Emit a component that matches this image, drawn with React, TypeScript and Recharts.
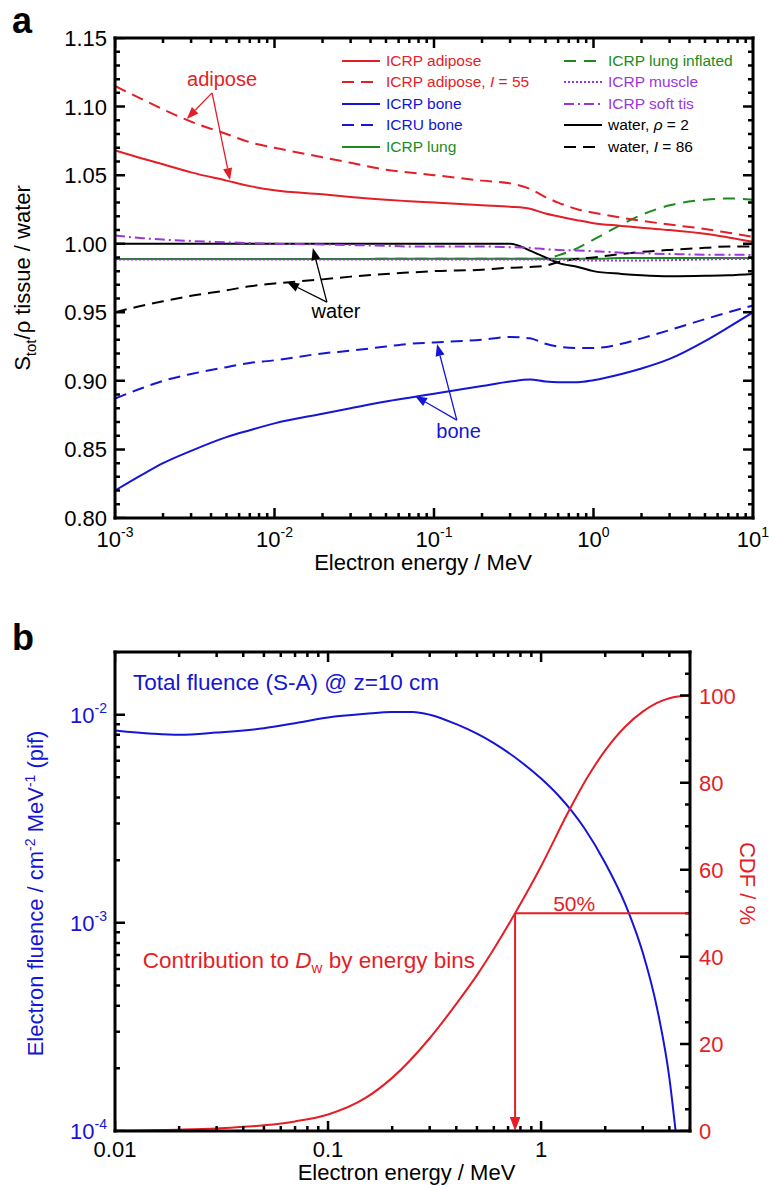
import React from 'react';
import { LineChart, Line, XAxis, YAxis, Legend, Label, ReferenceLine, ReferenceDot } from 'recharts';

const FONT = '"Liberation Sans", Arial, Helvetica, sans-serif';
const RED = '#e41e26';
const BLUE = '#1515d5';
const GREEN = '#1b8c1b';
const PURPLE = '#9b35e0';
const BLACK = '#000000';

// ---- panel a: S_tot/rho, tissue / water ----
const energy = [0.001, 0.0015, 0.002, 0.003, 0.005, 0.007, 0.01, 0.02, 0.03, 0.05, 0.07, 0.1, 0.2, 0.3, 0.4, 0.5, 0.6, 0.8, 1, 1.5, 2, 3, 5, 7, 10];
const icrpAdipose = [1.068, 1.062, 1.058, 1.052, 1.046, 1.042, 1.039, 1.036, 1.034, 1.032, 1.031, 1.03, 1.028, 1.027, 1.0255, 1.022, 1.02, 1.017, 1.015, 1.013, 1.0116, 1.01, 1.0073, 1.0046, 1.0014];
const adiposeI55 = [1.115, 1.105, 1.098, 1.089, 1.08, 1.074, 1.07, 1.063, 1.059, 1.054, 1.052, 1.05, 1.046, 1.044, 1.04, 1.034, 1.03, 1.025, 1.0226, 1.019, 1.0167, 1.014, 1.0107, 1.008, 1.005];
const icrpBone = [0.82, 0.832, 0.84, 0.849, 0.859, 0.864, 0.869, 0.876, 0.88, 0.885, 0.8877, 0.8906, 0.8962, 0.8995, 0.901, 0.8995, 0.899, 0.899, 0.9005, 0.905, 0.909, 0.916, 0.929, 0.939, 0.95];
const icruBone = [0.887, 0.895, 0.9, 0.905, 0.91, 0.913, 0.915, 0.92, 0.922, 0.925, 0.927, 0.928, 0.93, 0.932, 0.931, 0.927, 0.925, 0.924, 0.924, 0.927, 0.931, 0.937, 0.945, 0.95, 0.955];
const icrpLung = [0.9888, 0.9888, 0.9888, 0.9888, 0.9888, 0.9888, 0.9888, 0.9888, 0.9888, 0.989, 0.989, 0.989, 0.989, 0.989, 0.989, 0.989, 0.989, 0.989, 0.989, 0.9895, 0.9895, 0.9895, 0.9895, 0.9895, 0.9895];
const lungInflated = [0.9888, 0.9888, 0.9888, 0.9888, 0.9888, 0.9888, 0.9888, 0.9888, 0.9888, 0.989, 0.989, 0.989, 0.989, 0.989, 0.989, 0.989, 0.9915, 0.997, 1.003, 1.014, 1.021, 1.028, 1.032, 1.033, 1.032];
const icrpMuscle = [0.9885, 0.9885, 0.9885, 0.9885, 0.9885, 0.9885, 0.9885, 0.9885, 0.9885, 0.9885, 0.9885, 0.9885, 0.9885, 0.9885, 0.9885, 0.9885, 0.9885, 0.988, 0.9878, 0.9877, 0.9878, 0.988, 0.9885, 0.9888, 0.9888];
const softTissue = [1.006, 1.004, 1.003, 1.002, 1.001, 1.0005, 1.0, 0.9995, 0.999, 0.9985, 0.998, 0.998, 0.998, 0.9975, 0.997, 0.996, 0.9955, 0.995, 0.9945, 0.9935, 0.993, 0.9925, 0.992, 0.992, 0.9918];
const waterRho2 = [1, 1, 1, 1, 1, 1, 1, 1, 1, 1, 1, 1, 1, 1, 0.995, 0.99, 0.986, 0.983, 0.98, 0.978, 0.977, 0.9763, 0.9766, 0.977, 0.978];
const waterI86 = [0.95, 0.955, 0.958, 0.962, 0.966, 0.969, 0.971, 0.974, 0.976, 0.978, 0.979, 0.98, 0.981, 0.9825, 0.983, 0.984, 0.9865, 0.989, 0.99, 0.9925, 0.994, 0.9955, 0.997, 0.998, 0.998];

// ---- panel b: fluence spectrum and dose CDF ----
const fluenceEnergy = [0.01, 0.015, 0.02, 0.03, 0.05, 0.07, 0.1, 0.15, 0.2, 0.25, 0.3, 0.4, 0.5, 0.6, 0.8, 1.0, 1.2, 1.4, 1.6, 2.0, 2.5, 3.0, 3.5, 4.0, 4.28];
const fluence = [0.0084, 0.0081, 0.008, 0.0082, 0.0086, 0.0091, 0.0097, 0.0101, 0.0103, 0.0103, 0.01, 0.009, 0.0081, 0.0073, 0.00596, 0.00493, 0.00411, 0.00342, 0.00284, 0.00194, 0.00121, 0.00072, 0.00039, 0.00018, 0.0001];
const cdfEnergy = [0.01, 0.02, 0.03, 0.05, 0.07, 0.1, 0.15, 0.2, 0.3, 0.4, 0.5, 0.6, 0.755, 1.0, 1.34, 1.64, 2.0, 2.5, 3.0, 3.5, 4.0, 5.0];
const cdf = [0, 0.3, 0.6, 1.3, 2.2, 3.8, 7.6, 12.2, 21.3, 29.2, 35.8, 41.8, 50, 60.8, 73.2, 81.0, 87.4, 93.0, 96.3, 98.3, 99.4, 100];
const medianEnergy = 0.755;

// tick labels
const bXLabels = ['0.01', '0.1', '1'];
const bRightLabels = [0, 20, 40, 60, 80, 100];

// annotation anchors (data space)
const adiposeArrows = [[[0.00406, 1.11], [0.00282, 1.091]], [[0.00406, 1.11], [0.00526, 1.0464]]];
const waterArrows = [[[0.0213, 0.9574], [0.01197, 0.972]], [[0.0213, 0.9574], [0.0174, 0.9968]]];
const boneArrows = [[[0.139, 0.8714], [0.076, 0.8889]], [[0.139, 0.8714], [0.1045, 0.9268]]];

const logTicks = (lo: number, hi: number) => {
  const out: number[] = [];
  for (let d = Math.floor(Math.log10(lo)); d <= Math.ceil(Math.log10(hi)); d++) {
    for (let m = 1; m < 10; m++) {
      const v = +(m * Math.pow(10, d)).toPrecision(6);
      if (v >= lo * 0.999 && v <= hi * 1.001) out.push(v);
    }
  }
  return out;
};
const isDecade = (v: number) => Math.abs(Math.log10(v) - Math.round(Math.log10(v))) < 1e-6;
const isAMajorY = (v: number) => Math.round(v * 100) % 5 === 0;

const aXTicks = logTicks(0.001, 10);
const aYTicks = Array.from({ length: 36 }, (_, i) => +(0.8 + i * 0.01).toFixed(2));
const bXTicks = logTicks(0.01, 5);
const bYLeftTicks = logTicks(1e-4, 0.02);
const bYRightTicks = Array.from({ length: 22 }, (_, i) => i * 5);

// plot-area sizes (px), used to turn tick lengths into data units
const A_W = 638, A_H = 480;
const B_W = 575, B_H = 479;
const tickLen = (major: boolean) => (major ? 10 : 5);

type Pt = { e: number; t: number | null };
const segs = (pairs: [Pt, Pt][]) => pairs.flatMap(([a, b]) => [a, b, { e: b.e, t: null }]);

// panel a tick marks (inward, mirrored on all four sides)
const aPxPerY = A_H / 0.35;
const aPxPerDec = A_W / 4;
const aTickBottom = segs(aXTicks.map(v => [{ e: v, t: 0.8 }, { e: v, t: 0.8 + tickLen(isDecade(v)) / aPxPerY }] as [Pt, Pt]));
const aTickTop = segs(aXTicks.map(v => [{ e: v, t: 1.15 }, { e: v, t: 1.15 - tickLen(isDecade(v)) / aPxPerY }] as [Pt, Pt]));
const aTickLeft = segs(aYTicks.map(v => [{ e: 0.001, t: v }, { e: 0.001 * Math.pow(10, tickLen(isAMajorY(v)) / aPxPerDec), t: v }] as [Pt, Pt]));
const aTickRight = segs(aYTicks.map(v => [{ e: 10, t: v }, { e: 10 / Math.pow(10, tickLen(isAMajorY(v)) / aPxPerDec), t: v }] as [Pt, Pt]));

// panel b tick marks
const bPxPerDecX = B_W / Math.log10(5 / 0.01);
const bPxPerDecY = B_H / Math.log10(0.02 / 1e-4);
const bPxPerCdf = B_H / 110;
const bTickBottom = segs(bXTicks.map(v => [{ e: v, t: 1e-4 }, { e: v, t: 1e-4 * Math.pow(10, tickLen(isDecade(v)) / bPxPerDecY) }] as [Pt, Pt]));
const bTickTop = segs(bXTicks.map(v => [{ e: v, t: 0.02 }, { e: v, t: 0.02 / Math.pow(10, tickLen(isDecade(v)) / bPxPerDecY) }] as [Pt, Pt]));
const bTickLeft = segs(bYLeftTicks.map(v => [{ e: 0.01, t: v }, { e: 0.01 * Math.pow(10, tickLen(isDecade(v)) / bPxPerDecX), t: v }] as [Pt, Pt]));
const bTickRight = segs(bYRightTicks.map(v => [{ e: 5, t: v }, { e: 5 / Math.pow(10, tickLen(v % 20 === 0) / bPxPerDecX), t: v }] as [Pt, Pt]));

const AXIS = { stroke: BLACK, strokeWidth: 3, strokeLinecap: 'square' as const };

// axis ticks only carry the labels; the inward tick marks are drawn as line series
const labelTick = (isMajor: (v: number) => boolean, label: (v: number, x: number, y: number) => React.ReactNode) =>
  (props: any) => {
    const v = Number(props.payload.value);
    return <g>{isMajor(v) ? label(v, Number(props.x), Number(props.y)) : null}</g>;
  };

const Pow10 = ({ x, y, v, anchor, color = BLACK }: any) => (
  <text x={x} y={y} textAnchor={anchor} fill={color} fontSize={22} fontFamily={FONT}>
    10<tspan dy={-10} fontSize={14}>{String(Math.round(Math.log10(v)))}</tspan>
  </text>
);

const arrowShape = (color: string, width = 1.3, head = 12) => (p: any) => {
  const x1 = Number(p.x1), y1 = Number(p.y1), x2 = Number(p.x2), y2 = Number(p.y2);
  const ang = Math.atan2(y2 - y1, x2 - x1);
  const hx = x2 - head * Math.cos(ang);
  const hy = y2 - head * Math.sin(ang);
  const w = head * 0.38;
  const px = -Math.sin(ang) * w;
  const py = Math.cos(ang) * w;
  return (
    <g>
      <line x1={x1} y1={y1} x2={hx} y2={hy} stroke={color} strokeWidth={width} />
      <polygon points={`${x2},${y2} ${hx + px},${hy + py} ${hx - px},${hy - py}`} fill={color} />
    </g>
  );
};

const textShape = (content: React.ReactNode, color: string, anchor = 'middle', size = 20) => (p: any) => (
  <text x={p.cx} y={p.cy} textAnchor={anchor} fill={color} fontSize={size} fontFamily={FONT}>{content}</text>
);

const aSeries = [
  { key: 'adipose', name: 'ICRP adipose', color: RED, dash: undefined as string | undefined },
  { key: 'adipose55', name: <>ICRP adipose, <i>I</i> = 55</>, color: RED, dash: '12 7' },
  { key: 'bone', name: 'ICRP bone', color: BLUE, dash: undefined },
  { key: 'icruBone', name: 'ICRU bone', color: BLUE, dash: '12 7' },
  { key: 'lung', name: 'ICRP lung', color: GREEN, dash: undefined },
  { key: 'lungInfl', name: 'ICRP lung inflated', color: GREEN, dash: '12 8' },
  { key: 'muscle', name: 'ICRP muscle', color: PURPLE, dash: '2 2' },
  { key: 'softTis', name: 'ICRP soft tis', color: PURPLE, dash: '10 4 2 4' },
  { key: 'waterRho', name: <>water, <i>ρ</i> = 2</>, color: BLACK, dash: undefined },
  { key: 'waterI', name: <>water, <i>I</i> = 86</>, color: BLACK, dash: '12 7' },
];
const drawOrder = ['lung', 'lungInfl', 'waterI', 'waterRho', 'softTis', 'muscle', 'icruBone', 'bone', 'adipose55', 'adipose'];

const aRows = energy.map((e, i) => ({
  e,
  adipose: icrpAdipose[i],
  adipose55: adiposeI55[i],
  bone: icrpBone[i],
  icruBone: icruBone[i],
  lung: icrpLung[i],
  lungInfl: lungInflated[i],
  muscle: icrpMuscle[i],
  softTis: softTissue[i],
  waterRho: waterRho2[i],
  waterI: waterI86[i],
}));
const fluenceRows = fluenceEnergy.map((e, i) => ({ e, v: fluence[i] }));
const cdfRows = cdfEnergy.map((e, i) => ({ e, c: cdf[i] }));

const LegendBox = () => (
  <div style={{ display: 'grid', gridTemplateColumns: '222px 200px', gridAutoFlow: 'column', gridTemplateRows: 'repeat(5, 21.5px)', fontFamily: FONT, fontSize: 15.5 }}>
    {aSeries.map(s => (
      <div key={s.key} style={{ display: 'flex', alignItems: 'center', color: s.color, whiteSpace: 'nowrap' }}>
        <svg width={38} height={8} style={{ marginRight: 6 }}>
          <line x1={0} y1={4} x2={38} y2={4} stroke={s.color} strokeWidth={2} strokeDasharray={s.dash} />
        </svg>
        <span>{s.name}</span>
      </div>
    ))}
  </div>
);

const xTitle = (text: React.ReactNode, dy: number, shift = 0) => (props: any) => {
  const vb = props.viewBox;
  return <text x={vb.x + vb.width / 2 + shift} y={vb.y + dy} textAnchor="middle" fontSize={22} fontFamily={FONT} fill={BLACK}>{text}</text>;
};
const yTitle = (text: React.ReactNode, dx: number, rot: number, color: string, shift = 0) => (props: any) => {
  const vb = props.viewBox;
  const cx = vb.x + dx;
  const cy = vb.y + vb.height / 2 + shift;
  return <text x={cx} y={cy} transform={`rotate(${rot} ${cx} ${cy})`} textAnchor="middle" fontSize={22} fontFamily={FONT} fill={color}>{text}</text>;
};

const axisCommon = { tickSize: 0, tickMargin: 0, tickLine: false, axisLine: AXIS, interval: 0 as const, allowDataOverflow: true };

const tickSeries = (sets: Pt[][], yAxisId: string) =>
  sets.map((d, i) => (
    <Line key={`tk-${yAxisId}-${i}`} data={d} dataKey="t" xAxisId="b" yAxisId={yAxisId} type="linear" stroke={BLACK}
      strokeWidth={2.5} dot={false} activeDot={false} legendType="none" isAnimationActive={false} />
  ));

function PanelA() {
  return (
    <LineChart width={769} height={600} data={aRows} margin={{ top: 37, right: 0, bottom: 0, left: 0 }}>
      <XAxis xAxisId="b" dataKey="e" type="number" scale="log" domain={[0.001, 10]} ticks={aXTicks} height={82} {...axisCommon}
        tick={labelTick(isDecade, (v, x, y) => <Pow10 x={x} y={y + 29} v={v} anchor="middle" />)}>
        <Label content={xTitle('Electron energy / MeV', 52, -11)} />
      </XAxis>
      <XAxis xAxisId="t" orientation="top" dataKey="e" type="number" scale="log" domain={[0.001, 10]} ticks={[]} height={1} {...axisCommon} tick={false} />
      <YAxis yAxisId="l" type="number" domain={[0.8, 1.15]} ticks={aYTicks} width={115} {...axisCommon}
        tick={labelTick(isAMajorY, (v, x, y) => (
          <text x={x - 8} y={y + 8} textAnchor="end" fontSize={22} fontFamily={FONT} fill={BLACK}>{v.toFixed(2)}</text>
        ))}>
        <Label content={yTitle(<>S<tspan dy={6} fontSize={15}>tot</tspan><tspan dy={-6}>/ρ  tissue / water</tspan></>, 30, -90, BLACK)} />
      </YAxis>
      <YAxis yAxisId="r" orientation="right" type="number" domain={[0.8, 1.15]} ticks={[]} width={16} {...axisCommon} tick={false} />
      <Legend layout="vertical" align="center" verticalAlign="middle" content={() => <LegendBox />}
        wrapperStyle={{ left: 342, top: 50, width: 420, height: 'auto' }} />
      {drawOrder.map(k => {
        const s = aSeries.find(d => d.key === k)!;
        return (
          <Line key={k} xAxisId="b" yAxisId="l" dataKey={k} type="monotone" stroke={s.color} strokeWidth={2}
            strokeDasharray={s.dash} dot={false} isAnimationActive={false} />
        );
      })}
      {tickSeries([aTickBottom, aTickTop, aTickLeft, aTickRight], 'l')}
      {[...adiposeArrows.map(a => [a, RED]), ...waterArrows.map(a => [a, BLACK]), ...boneArrows.map(a => [a, BLUE])].map(([a, c]: any, i) => (
        <ReferenceLine key={`arr${i}`} xAxisId="b" yAxisId="l" ifOverflow="visible"
          segment={[{ x: a[0][0], y: a[0][1] }, { x: a[1][0], y: a[1][1] }]} shape={arrowShape(c)} />
      ))}
      <ReferenceDot xAxisId="b" yAxisId="l" x={0.00469} y={1.115} r={0} shape={textShape('adipose', RED)} />
      <ReferenceDot xAxisId="b" yAxisId="l" x={0.0243} y={0.9458} r={0} shape={textShape('water', BLACK)} />
      <ReferenceDot xAxisId="b" yAxisId="l" x={0.1426} y={0.8582} r={0} shape={textShape('bone', BLUE)} />
    </LineChart>
  );
}

function PanelB() {
  return (
    <LineChart width={769} height={568} margin={{ top: 31, right: 0, bottom: 0, left: 0 }}>
      <XAxis xAxisId="b" dataKey="e" type="number" scale="log" domain={[0.01, 5]} ticks={bXTicks} height={57} {...axisCommon}
        tick={labelTick(isDecade, (v, x, y) => (
          <text x={x} y={y + 26} textAnchor="middle" fontSize={22} fontFamily={FONT} fill={BLACK}>{bXLabels[Math.round(Math.log10(v)) + 2]}</text>
        ))}>
        <Label content={xTitle('Electron energy / MeV', 49, 4)} />
      </XAxis>
      <XAxis xAxisId="t" orientation="top" dataKey="e" type="number" scale="log" domain={[0.01, 5]} ticks={[]} height={1} {...axisCommon} tick={false} />
      <YAxis yAxisId="l" type="number" scale="log" domain={[1e-4, 0.02]} ticks={bYLeftTicks} width={115} {...axisCommon}
        tick={labelTick(isDecade, (v, x, y) => <Pow10 x={x - 8} y={y + 8} v={v} anchor="end" color={BLUE} />)}>
        <Label content={yTitle(<>Electron fluence / cm<tspan dy={-8} fontSize={14}>-2</tspan><tspan dy={8}> MeV</tspan><tspan dy={-8} fontSize={14}>-1</tspan><tspan dy={8}> (pif)</tspan></>, 43, -90, BLUE, 2)} />
      </YAxis>
      <YAxis yAxisId="r" orientation="right" type="number" domain={[0, 110]} ticks={bYRightTicks} width={79} {...axisCommon}
        tick={labelTick(v => v % 20 === 0, (v, x, y) => (
          <text x={x + 9} y={y + 8} textAnchor="start" fontSize={22} fontFamily={FONT} fill={RED}>{bRightLabels[v / 20]}</text>
        ))}>
        <Label content={yTitle('CDF / %', 50, 90, RED, -8)} />
      </YAxis>
      <Line data={fluenceRows} xAxisId="b" yAxisId="l" dataKey="v" type="monotone" stroke={BLUE} strokeWidth={2} dot={false} isAnimationActive={false} />
      <Line data={cdfRows} xAxisId="b" yAxisId="r" dataKey="c" type="monotone" stroke={RED} strokeWidth={2} dot={false} isAnimationActive={false} />
      {tickSeries([bTickBottom, bTickTop, bTickLeft], 'l')}
      {tickSeries([bTickRight], 'r')}
      <ReferenceLine xAxisId="b" yAxisId="r" ifOverflow="visible" stroke={RED} strokeWidth={2}
        segment={[{ x: medianEnergy, y: 50 }, { x: 5, y: 50 }]} />
      <ReferenceLine xAxisId="b" yAxisId="r" ifOverflow="visible"
        segment={[{ x: medianEnergy, y: 50 }, { x: medianEnergy, y: 0 }]} shape={arrowShape(RED, 2, 14)} />
      <ReferenceDot xAxisId="b" yAxisId="r" x={1.43} y={50.6} r={0} shape={textShape('50%', RED, 'middle', 21)} />
      <ReferenceDot xAxisId="b" yAxisId="l" x={0.01215} y={0.01318} r={0} shape={textShape('Total fluence (S-A) @ z=10 cm', BLUE, 'start', 22.5)} />
      <ReferenceDot xAxisId="b" yAxisId="l" x={0.0135} y={0.000605} r={0}
        shape={textShape(<>Contribution to <tspan fontStyle="italic">D</tspan><tspan dy={5} fontSize={15}>w</tspan><tspan dy={-5}> by energy bins</tspan></>, RED, 'start', 22.5)} />
    </LineChart>
  );
}

export default function App() {
  return (
    <div style={{ position: 'absolute', left: 0, top: 0, width: 769, height: 1188, background: '#fff' }}>
      <div style={{ position: 'absolute', left: 0, top: 0 }}><PanelA /></div>
      <div style={{ position: 'absolute', left: 0, top: 620 }}><PanelB /></div>
      <svg width={769} height={1188} style={{ position: 'absolute', left: 0, top: 0, pointerEvents: 'none' }}>
        <text x={12} y={33} fontSize={36} fontWeight="bold" fontFamily={FONT}>a</text>
        <text x={12} y={650} fontSize={36} fontWeight="bold" fontFamily={FONT}>b</text>
      </svg>
    </div>
  );
}
